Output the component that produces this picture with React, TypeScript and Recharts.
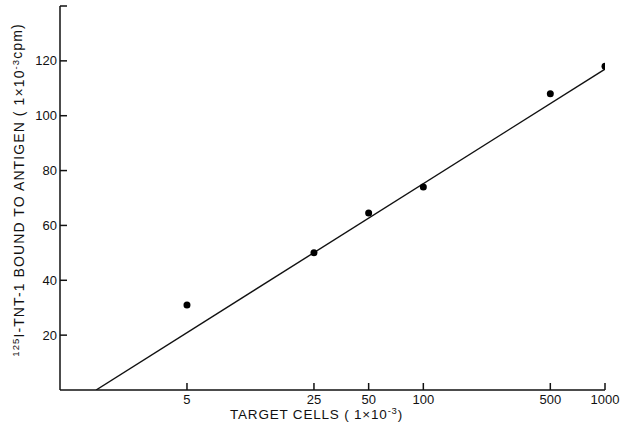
import React from 'react';
import { ComposedChart, Scatter, Line, XAxis, YAxis } from 'recharts';

// measured points: target cells (x10^-3) vs bound cpm (x10^-3)
const cells = [5, 25, 50, 100, 500, 1000];
const bound = [31, 50, 64.5, 74, 108, 118];

// fitted line end points
const fitCells = [1.58, 1000];
const fitBound = [0, 117];

const xTicks = [5, 25, 50, 100, 500, 1000];
const yTicks = [20, 40, 60, 80, 100, 120, 140];

const points = cells.map((c, i) => ({ x: c, y: bound[i] }));
const fit = fitCells.map((c, i) => ({ x: c, y: fitBound[i] }));

const FONT = '"Liberation Sans", Arial, sans-serif';

const XLabel = (props: any) => {
  const { viewBox } = props;
  return (
    <text x={viewBox.x + 170} y={viewBox.y + 29} fontFamily={FONT} fontSize={13.5} fill="#111" letterSpacing={0.8}>
      TARGET CELLS ( 1×10
      <tspan dy={-5} fontSize={9.5}>-3</tspan>
      <tspan dy={5}>)</tspan>
    </text>
  );
};

const YLabel = () => {
  const cx = 24;
  const cy = 190;
  return (
    <text x={cx} y={cy} transform={`rotate(-90 ${cx} ${cy})`} textAnchor="middle" fontFamily={FONT} fontSize={14} fill="#111" letterSpacing={1.1}>
      <tspan dy={-5} fontSize={9.5}>125</tspan>
      <tspan dy={5}>I-TNT-1 BOUND TO ANTIGEN ( 1×10</tspan>
      <tspan dy={-5} fontSize={9.5}>-3</tspan>
      <tspan dy={3}>cpm)</tspan>
    </text>
  );
};

const Dot = (props: any) => <circle cx={props.cx} cy={props.cy} r={3.5} fill="#000" />;

export default function App() {
  return (
    <div style={{ position: 'absolute', left: 0, top: 0, width: 624, height: 434, background: '#fff' }}>
      <ComposedChart width={624} height={434} margin={{ top: 6, right: 19, left: 20, bottom: 14 }}>
        <XAxis
          dataKey="x"
          type="number"
          scale="log"
          domain={[1, 1000]}
          ticks={xTicks}
          allowDataOverflow
          stroke="#111"
          strokeWidth={1.5}
          tickSize={-7}
          tickMargin={12}
          height={30}
          tick={{ fill: '#111', fontSize: 13, fontFamily: FONT }}
          label={<XLabel />}
        />
        <YAxis
          dataKey="y"
          type="number"
          domain={[0, 140]}
          ticks={yTicks}
          allowDataOverflow
          stroke="#111"
          strokeWidth={1.5}
          tickSize={-7}
          tickMargin={10}
          width={40}
          tickFormatter={(v: number) => (v === 140 ? '' : String(v))}
          tick={{ fill: '#111', fontSize: 13, fontFamily: FONT }}
        />
        <Line
          data={fit}
          dataKey="y"
          type="linear"
          stroke="#111"
          strokeWidth={1.4}
          dot={false}
          isAnimationActive={false}
        />
        <Scatter data={points} dataKey="y" fill="#000" shape={<Dot />} isAnimationActive={false} />
      </ComposedChart>
      <svg width={624} height={434} style={{ position: 'absolute', left: 0, top: 0, pointerEvents: 'none' }}>
        <YLabel />
      </svg>
    </div>
  );
}
